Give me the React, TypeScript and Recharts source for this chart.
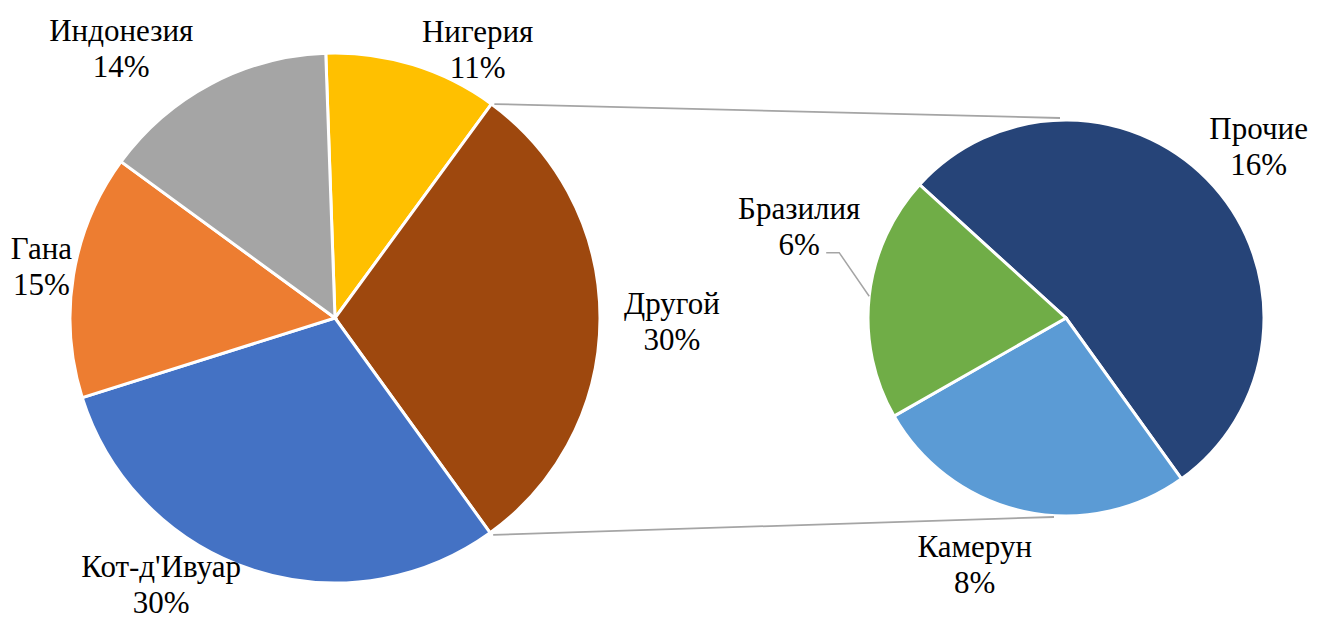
import React from 'react';
import { PieChart, Pie, Cell } from 'recharts';

// ---- data ----
const mainNames = ['Нигерия', 'Другой', "Кот-д'Ивуар", 'Гана', 'Индонезия'];
const mainValues = [10.6, 30, 30.1, 14.9, 14.4];
const subNames = ['Прочие', 'Камерун', 'Бразилия'];
const subValues = [16, 8, 6];

// ---- styles / layout ----
const mainColors = ['#FFC000', '#9E480E', '#4472C4', '#ED7D31', '#A5A5A5'];
const subColors = ['#264478', '#5B9BD5', '#70AD47'];
const MAIN = { cx: 335, cy: 318, r: 265, start: 92 };
const SUB = { cx: 1066, cy: 318, r: 198, start: 137.7 };
const FONT = 'Liberation Serif, Times New Roman, serif';
const FONT_SIZE = 31;
const RAD = Math.PI / 180;

// label placement: extra radius beyond the pie edge and angular shift from mid-angle
const LABEL_POS: Record<string, { gap: number; dA: number; leader?: boolean }> = {
  'Нигерия': { gap: 39, dA: -10.9 },
  'Другой': { gap: 72, dA: -0.5 },
  "Кот-д'Ивуар": { gap: 53, dA: -14.8 },
  'Гана': { gap: 33, dA: -0.6 },
  'Индонезия': { gap: 79, dA: 10.5 },
  'Прочие': { gap: 60, dA: 0 },
  'Камерун': { gap: 65, dA: -8 },
  'Бразилия': { gap: 84, dA: -12.6, leader: true },
};

const mainData = mainNames.map((name, i) => ({ name, value: mainValues[i] }));
const subData = subNames.map((name, i) => ({ name, value: subValues[i] }));

const mainTotal = mainValues.reduce((a, b) => a + b, 0);
const otherIdx = mainNames.indexOf('Другой');
const otherStart =
  MAIN.start - (360 * mainValues.slice(0, otherIdx).reduce((a, b) => a + b, 0)) / mainTotal;
const otherEnd = otherStart - (360 * mainValues[otherIdx]) / mainTotal;

function polar(cx: number, cy: number, r: number, angle: number) {
  return { x: cx + r * Math.cos(angle * RAD), y: cy - r * Math.sin(angle * RAD) };
}

function renderLabel(props: any) {
  const { cx, cy, midAngle, outerRadius, name, value } = props;
  const cfg = LABEL_POS[name] || { gap: 40, dA: 0 };
  const p = polar(cx, cy, outerRadius + cfg.gap, midAngle + cfg.dA);
  const pct = Math.round(value) + '%';
  let extra: React.ReactNode = null;
  if (cfg.leader) {
    const e = polar(cx, cy, outerRadius, midAngle);
    extra = (
      <path d={`M${p.x + 27},${p.y + 26} h13 L${e.x},${e.y}`} stroke="#A5A5A5" strokeWidth={1.5} fill="none" />
    );
  }
  if (name === 'Другой') {
    const a = polar(MAIN.cx, MAIN.cy, MAIN.r, otherStart);
    const b = polar(MAIN.cx, MAIN.cy, MAIN.r, otherEnd);
    extra = (
      <g>
        <line x1={a.x + 3} y1={a.y} x2={SUB.cx - 6} y2={SUB.cy - SUB.r - 2} stroke="#A5A5A5" strokeWidth={1.8} />
        <line x1={b.x + 3} y1={b.y + 2} x2={SUB.cx - 12} y2={SUB.cy + SUB.r + 1} stroke="#A5A5A5" strokeWidth={1.8} />
      </g>
    );
  }
  return (
    <g>
      {extra}
      <text x={p.x} y={p.y} textAnchor="middle" fill="#000" style={{ fontFamily: FONT, fontSize: FONT_SIZE }}>
        <tspan x={p.x} y={p.y - 18} dominantBaseline="central">{name}</tspan>
        <tspan x={p.x} y={p.y + 18} dominantBaseline="central">{pct}</tspan>
      </text>
    </g>
  );
}

export default function App() {
  return (
    <div style={{ position: 'absolute', left: 0, top: 0, width: 1323, height: 619, background: '#fff' }}>
      <PieChart width={1323} height={619} margin={{ top: 0, right: 0, bottom: 0, left: 0 }}>
        <Pie data={mainData} dataKey="value" nameKey="name" cx={MAIN.cx} cy={MAIN.cy} outerRadius={MAIN.r}
          startAngle={MAIN.start} endAngle={MAIN.start - 360} stroke="#fff" strokeWidth={3}
          label={renderLabel} labelLine={false} isAnimationActive={false}>
          {mainData.map((d, i) => (<Cell key={d.name} fill={mainColors[i]} />))}
        </Pie>
        <Pie data={subData} dataKey="value" nameKey="name" cx={SUB.cx} cy={SUB.cy} outerRadius={SUB.r}
          startAngle={SUB.start} endAngle={SUB.start - 360} stroke="#fff" strokeWidth={3}
          label={renderLabel} labelLine={false} isAnimationActive={false}>
          {subData.map((d, i) => (<Cell key={d.name} fill={subColors[i]} />))}
        </Pie>
      </PieChart>
    </div>
  );
}
